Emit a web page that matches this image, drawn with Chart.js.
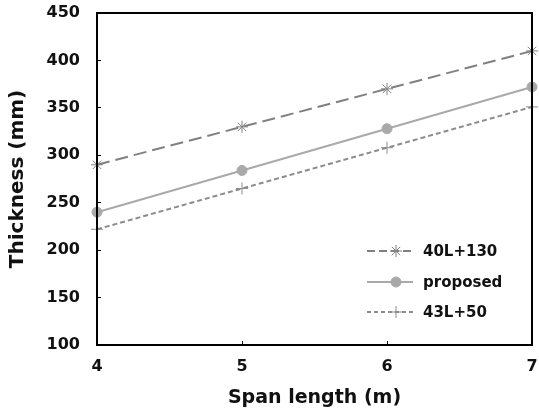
<!DOCTYPE html>
<html>
<head>
<meta charset="utf-8">
<script src="https://cdn.jsdelivr.net/npm/chart.js@4/dist/chart.umd.min.js"></script>
<style>
html,body{margin:0;padding:0;background:#fff;}
#wrap{width:539px;height:414px;}
</style>
</head>
<body>
<div id="wrap"><canvas id="c" width="539" height="414"></canvas></div>
<script>
const spanLengths = [4, 5, 6, 7];
const seriesNames = ['40L+130', 'proposed', '43L+50'];
const values40L130 = [290, 330, 370, 410];
const valuesProposed = [240, 284, 328, 372];
const values43L50 = [222, 265, 308, 351];
const xTicks = [4, 5, 6, 7];
const yTicks = [100, 150, 200, 250, 300, 350, 400, 450];
const xTitle = 'Span length (m)';
const yTitle = 'Thickness (mm)';

const toPts = vals => spanLengths.map((x, i) => ({x: x, y: vals[i]}));
const FONT = '"DejaVu Sans", sans-serif';

const zeroPad = s => { s.paddingTop = 0; s.paddingBottom = 0; s.paddingLeft = 0; s.paddingRight = 0; };

const frame = {
  id: 'frame',
  afterDatasetsDraw(chart) {
    const a = chart.chartArea, ctx = chart.ctx;
    ctx.save();
    ctx.strokeStyle = '#000';
    ctx.lineWidth = 2;
    ctx.strokeRect(a.left, a.top, a.right - a.left, a.bottom - a.top);
    ctx.restore();
  }
};

const legendIn = {
  id: 'legendIn',
  afterDraw(chart) {
    const ctx = chart.ctx;
    const rows = [251, 282, 312];
    const x0 = 367, x1 = 413, mx = 396, tx = 423;
    chart.data.datasets.forEach((ds, i) => {
      const y = rows[i];
      ctx.save();
      ctx.strokeStyle = ds.borderColor;
      ctx.lineWidth = ds.borderWidth;
      ctx.setLineDash(ds.borderDash ? ds.legendDash : []);
      ctx.beginPath();
      ctx.moveTo(x0, y); ctx.lineTo(x1, y);
      ctx.stroke();
      ctx.setLineDash([]);
      ctx.fillStyle = ds.pointBackgroundColor;
      ctx.strokeStyle = ds.pointBorderColor;
      ctx.lineWidth = ds.pointBorderWidth;
      Chart.helpers.drawPoint(ctx, {pointStyle: ds.pointStyle, radius: ds.pointRadius, rotation: 0, borderWidth: ds.pointBorderWidth}, mx, y);
      ctx.fillStyle = '#111';
      ctx.font = 'bold 15px ' + FONT;
      ctx.textAlign = 'left';
      ctx.textBaseline = 'middle';
      ctx.fillText(ds.label, tx, y + 1);
      ctx.restore();
    });
  }
};

new Chart(document.getElementById('c'), {
  type: 'line',
  data: {
    datasets: [
      {
        label: seriesNames[0], data: toPts(values40L130),
        borderColor: '#808080', borderWidth: 2, borderDash: [13, 6], legendDash: [8, 4],
        pointStyle: 'star', pointRadius: 6, pointBorderWidth: 1,
        pointBorderColor: '#808080', pointBackgroundColor: '#808080'
      },
      {
        label: seriesNames[1], data: toPts(valuesProposed),
        borderColor: '#a9a9a9', borderWidth: 2,
        pointStyle: 'circle', pointRadius: 5, pointBorderWidth: 1,
        pointBorderColor: '#a9a9a9', pointBackgroundColor: '#a9a9a9'
      },
      {
        label: seriesNames[2], data: toPts(values43L50),
        borderColor: '#8c8c8c', borderWidth: 2, borderDash: [5, 3], legendDash: [4, 3],
        pointStyle: 'cross', pointRadius: 6, pointBorderWidth: 1,
        pointBorderColor: '#8c8c8c', pointBackgroundColor: '#8c8c8c'
      }
    ]
  },
  options: {
    responsive: false,
    animation: false,
    clip: false,
    layout: {padding: {left: 0, right: 7, top: 13, bottom: 0}},
    plugins: {legend: {display: false}, tooltip: {enabled: false}},
    scales: {
      x: {
        type: 'linear', min: 4, max: 7,
        afterBuildTicks: s => { s.ticks = xTicks.map(v => ({value: v})); },
        afterFit: s => { s.height = 69; zeroPad(s); },
        grid: {drawOnChartArea: false, drawTicks: true, tickLength: -4, color: '#000', tickColor: '#000'},
        border: {display: true, color: '#000', width: 2},
        ticks: {padding: 16, color: '#111', font: {family: FONT, size: 16, weight: 'bold'}, maxRotation: 0},
        title: {display: true, text: xTitle, color: '#111', padding: {top: 0, bottom: 5},
                font: {family: FONT, size: 19, weight: 'bold'}}
      },
      y: {
        type: 'linear', min: 100, max: 450,
        afterBuildTicks: s => { s.ticks = yTicks.map(v => ({value: v})); },
        afterFit: s => { s.width = 97; zeroPad(s); },
        grid: {drawOnChartArea: false, drawTicks: true, tickLength: -4, color: '#000', tickColor: '#000'},
        border: {display: true, color: '#000', width: 2},
        ticks: {padding: 21, color: '#111', font: {family: FONT, size: 16, weight: 'bold'}},
        title: {display: true, text: yTitle, color: '#111', padding: {top: 6, bottom: 0},
                font: {family: FONT, size: 20, weight: 'bold'}}
      }
    }
  },
  plugins: [frame, legendIn]
});
</script>
</body>
</html>
